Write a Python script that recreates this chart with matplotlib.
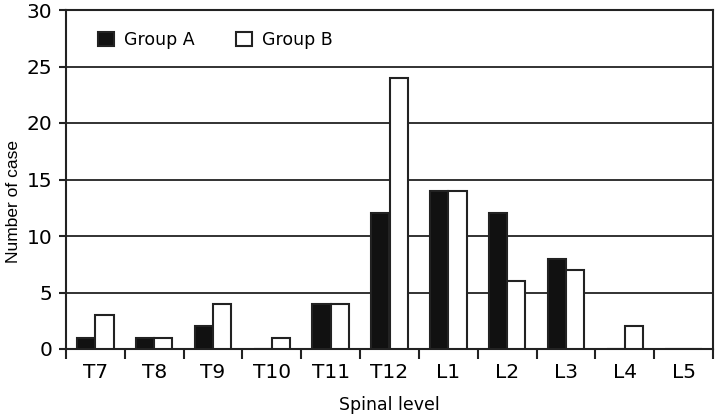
import matplotlib
matplotlib.use("Agg")
import matplotlib.pyplot as plt
import numpy as np

categories = ["T7", "T8", "T9", "T10", "T11", "T12", "L1", "L2", "L3", "L4", "L5"]
group_a = [1, 1, 2, 0, 4, 12, 14, 12, 8, 0, 0]
group_b = [3, 1, 4, 1, 4, 24, 14, 6, 7, 2, 0]
y_ticks = [0, 5, 10, 15, 20, 25, 30]

plt.rcParams['font.family'] = ['DejaVu Sans']

fig = plt.figure(figsize=(7.15, 4.18), dpi=100)
ax = fig.add_axes([66/715, 1-349/418, (713-66)/715, (349-10)/418])

x = np.arange(len(categories))
w = 0.31
ba = ax.bar(x - w/2, group_a, w, color="#111111", edgecolor="#222222", linewidth=1.5, zorder=3, label="Group A")
bb = ax.bar(x + w/2, group_b, w, color="white", edgecolor="#222222", linewidth=1.5, zorder=3, label="Group B")

ax.set_xlim(-0.5, len(categories) - 0.5)
ax.set_ylim(0, 30)
ax.set_yticks(y_ticks)
ax.set_yticklabels([str(v) for v in y_ticks], fontsize=14.5)
for v in y_ticks[1:]:
    ax.axhline(v, color="#222222", linewidth=1.3, zorder=1)

ax.set_xticks(np.arange(-0.5, len(categories), 1.0))
ax.set_xticklabels([])
ax.set_xticks(x, minor=True)
ax.set_xticklabels(categories, minor=True, fontsize=14.5)
ax.tick_params(axis='x', which='major', direction='out', length=7, width=1.5, color="#222222")
ax.tick_params(axis='x', which='minor', length=0, pad=10)
ax.tick_params(axis='y', direction='out', length=5, width=1.5, color="#222222", pad=5)

for s in ax.spines.values():
    s.set_linewidth(1.5)
    s.set_color("#222222")

ax.set_xlabel("Spinal level", fontsize=12.5, labelpad=10.5)
ax.set_ylabel("Number of case", fontsize=12.5, family=['Liberation Sans', 'DejaVu Sans'])
ax.yaxis.set_label_coords(-0.0696, 0.434)

leg = ax.legend(handles=[ba, bb], loc='upper left', bbox_to_anchor=(0.026, 0.985),
                ncol=2, frameon=False, fontsize=12.5, handlelength=0.9, handleheight=0.9,
                handletextpad=0.6, columnspacing=2.37)

fig.savefig("out.png", dpi=100)
